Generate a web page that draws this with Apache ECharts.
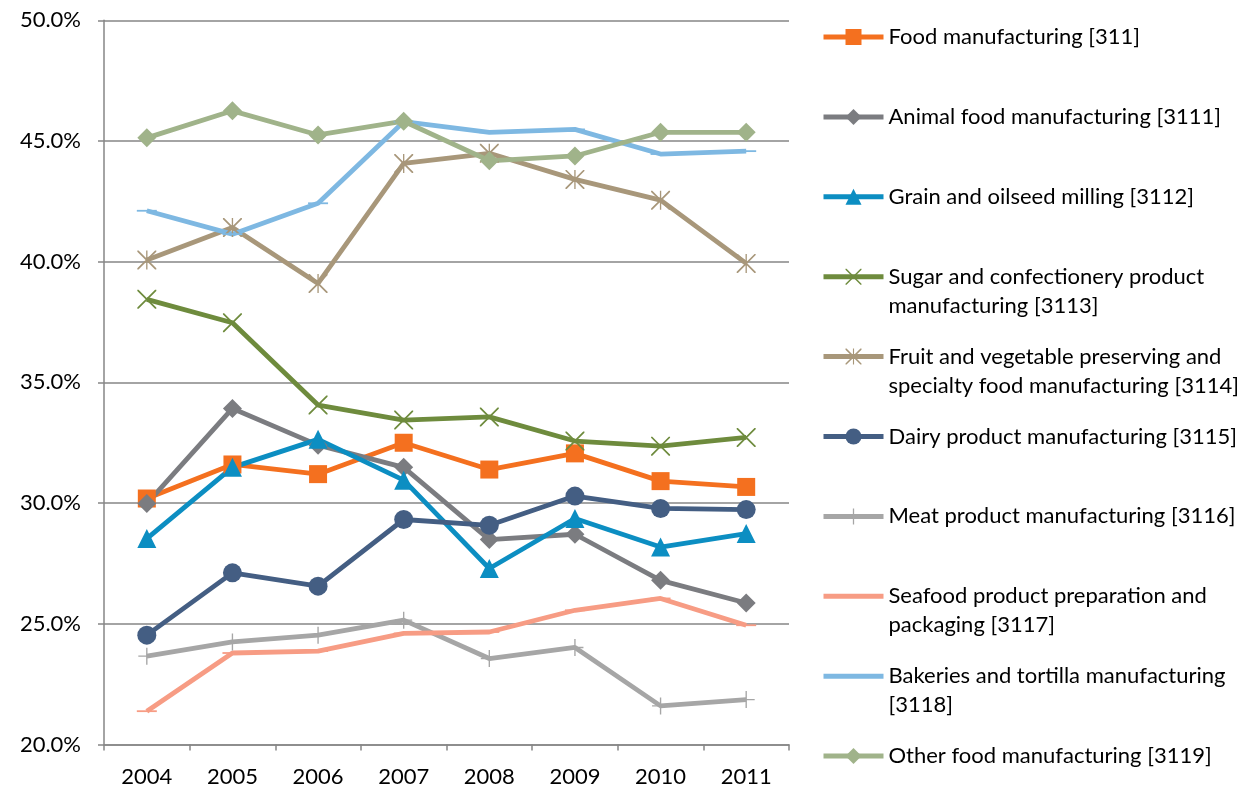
<!DOCTYPE html>
<html><head><meta charset="utf-8">
<script src="https://cdn.jsdelivr.net/npm/echarts@6/dist/echarts.min.js"></script>
<style>html,body{margin:0;padding:0;background:#fff}#c{width:1245px;height:789px}</style>
</head><body><div id="c"></div>
<script>
const years = ['2004','2005','2006','2007','2008','2009','2010','2011'];
const yMin = 20, yMax = 50, yStep = 5;

const food     = [30.19, 31.60, 31.20, 32.50, 31.39, 32.06, 30.91, 30.67];
const animal   = [29.98, 33.92, 32.40, 31.48, 28.49, 28.71, 26.80, 25.86];
const grain    = [28.53, 31.48, 32.64, 30.95, 27.29, 29.36, 28.18, 28.74];
const sugar    = [38.44, 37.47, 34.06, 33.44, 33.57, 32.57, 32.36, 32.72];
const fruit    = [40.07, 41.42, 39.10, 44.07, 44.49, 43.41, 42.55, 39.93];
const dairy    = [24.53, 27.11, 26.56, 29.32, 29.08, 30.29, 29.78, 29.73];
const meat     = [23.66, 24.25, 24.53, 25.15, 23.56, 24.02, 21.60, 21.86];
const seafood  = [21.38, 23.79, 23.87, 24.60, 24.66, 25.56, 26.05, 24.94];
const bakeries = [42.11, 41.14, 42.42, 45.80, 45.36, 45.48, 44.46, 44.58];
const other    = [45.13, 46.25, 45.25, 45.82, 44.18, 44.38, 45.36, 45.36];

const seriesNames = [
  'Food manufacturing [311]',
  'Animal food manufacturing [3111]',
  'Grain and oilseed milling [3112]',
  'Sugar and confectionery product manufacturing [3113]',
  'Fruit and vegetable preserving and specialty food manufacturing [3114]',
  'Dairy product manufacturing [3115]',
  'Meat product manufacturing [3116]',
  'Seafood product preparation and packaging [3117]',
  'Bakeries and tortilla manufacturing [3118]',
  'Other food manufacturing [3119]'
];
const legendLines = [
  ['Food manufacturing [311]'],
  ['Animal food manufacturing [3111]'],
  ['Grain and oilseed milling [3112]'],
  ['Sugar and confectionery product', 'manufacturing [3113]'],
  ['Fruit and vegetable preserving and', 'specialty food manufacturing [3114]'],
  ['Dairy product manufacturing [3115]'],
  ['Meat product manufacturing [3116]'],
  ['Seafood product preparation and', 'packaging [3117]'],
  ['Bakeries and tortilla manufacturing', '[3118]'],
  ['Other food manufacturing [3119]']
];
const seriesData = [food, animal, grain, sugar, fruit, dairy, meat, seafood, bakeries, other];
const colors = ['#F4701F','#7B7C80','#0C8EC2','#6E8B3D','#A8977A','#445E83','#A6A6A6','#F79C84','#7EB8E2','#A0B38A'];

const X_PATH = 'path://M0,0 L1.3,0 L20,18.7 L20,20 L18.7,20 L0,1.3 Z M20,0 L20,1.3 L1.3,20 L0,20 L0,18.7 L18.7,0 Z';
const STAR_PATH = X_PATH + ' M9.3,0 L10.7,0 L10.7,20 L9.3,20 Z';
const PLUS_PATH = 'path://M9.2,0 L10.8,0 L10.8,20 L9.2,20 Z M0,9.2 L20,9.2 L20,10.8 L0,10.8 Z';
const DASH_PATH = 'path://M0,0 L20,0 L20,6 L0,6 Z';
const symbols = ['rect','diamond','triangle',X_PATH,STAR_PATH,'circle',PLUS_PATH,DASH_PATH,DASH_PATH,'diamond'];
const symSizes = [18,19,19,19,19,19,17,[20,6],[20,6],19];
const hideLegendMarker = [false,false,false,false,false,false,false,true,true,false];

const FONT = 'Lato';
const series = seriesNames.map((n, i) => ({
  name: n, type: 'line', data: seriesData[i],
  symbol: symbols[i], symbolSize: symSizes[i], symbolKeepAspect: true,
  showSymbol: true, showAllSymbol: true,
  lineStyle: { color: colors[i], width: 4.8 },
  itemStyle: { color: colors[i], borderWidth: 0 },
  emphasis: { disabled: true },
  animation: false
}));

const legends = seriesNames.map((n, i) => {
  const lines = legendLines[i];
  const anchor = 37 + i * 79.9;
  const lh = 29;
  const multi = lines.length > 1;
  const lg = {
    data: [n], orient: 'vertical', left: 821,
    top: anchor - (multi ? 1.5 * lh : 0.5 * lh),
    padding: 0, itemWidth: 60, itemHeight: 20, itemGap: 0, selectedMode: false,
    formatter: () => multi ? '\n' + lines.join('\n') : lines[0],
    lineStyle: { width: 5 },
    textStyle: { fontFamily: FONT, fontSize: 22, color: '#000', lineHeight: lh }
  };
  if (hideLegendMarker[i]) lg.itemStyle = { opacity: 0 };
  return lg;
});

const chart = echarts.init(document.getElementById('c'));
chart.setOption({
  animation: false,
  backgroundColor: '#fff',
  grid: { left: 104, right: 456, top: 20.3, bottom: 44.5, containLabel: false },
  xAxis: {
    type: 'category', data: years, boundaryGap: true,
    axisLine: { lineStyle: { color: '#868686', width: 1.5 } },
    axisTick: { show: true, length: 6, lineStyle: { color: '#868686', width: 1.5 } },
    axisLabel: { color: '#000', fontFamily: FONT, fontSize: 22, margin: 21 }
  },
  yAxis: {
    type: 'value', min: yMin, max: yMax, interval: yStep,
    axisLine: { show: true, lineStyle: { color: '#868686', width: 1.5 } },
    axisTick: { show: true, length: 6, lineStyle: { color: '#868686', width: 1.5 } },
    splitLine: { show: true, lineStyle: { color: '#868686', width: 1.5 } },
    axisLabel: { color: '#000', fontFamily: FONT, fontSize: 22, margin: 23,
      formatter: v => v.toFixed(1) + '%' }
  },
  legend: legends,
  series: series
});
</script>
</body></html>
